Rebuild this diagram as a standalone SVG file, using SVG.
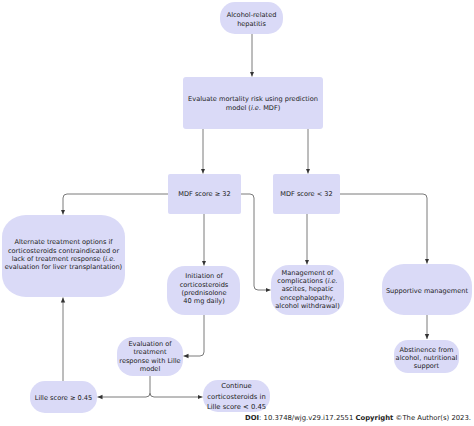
<svg xmlns="http://www.w3.org/2000/svg" width="474" height="426" viewBox="0 0 474 426">
<style>
.n{fill:#dadaf7;stroke:none}
.t{font-family:"DejaVu Sans",Verdana,sans-serif;font-size:6.6px;fill:#1a1a1a;text-anchor:middle}
.c{fill:none;stroke:#7a7a7a;stroke-width:1}
.i{font-style:italic}
.f{font-family:"DejaVu Sans",Verdana,sans-serif;font-size:6.85px;fill:#222}
.b{font-weight:bold}
</style>
<defs>
<marker id="ah" markerWidth="6" markerHeight="6" refX="5" refY="3" orient="auto" markerUnits="userSpaceOnUse">
<path d="M0,0.8 L5,3 L0,5.2 z" fill="#333"/>
</marker>
</defs>
<rect width="474" height="426" fill="#ffffff"/>
<g id="connectors">
<path class="c" d="M252,34 V76.5" marker-end="url(#ah)"/>
<path class="c" d="M203,129 V173.5" marker-end="url(#ah)"/>
<path class="c" d="M308,129 V173.5" marker-end="url(#ah)"/>
<path class="c" d="M168,194 H67 Q63,194 63,198 V214.5" marker-end="url(#ah)"/>
<path class="c" d="M241,194 H250 Q254,194 254,198 V286 Q254,290 258,290 H270.5" marker-end="url(#ah)"/>
<path class="c" d="M204,214 V265.5" marker-end="url(#ah)"/>
<path class="c" d="M307,214 V264.5" marker-end="url(#ah)"/>
<path class="c" d="M340,194 H423 Q427,194 427,198 V263.5" marker-end="url(#ah)"/>
<path class="c" d="M427,315 V339" marker-end="url(#ah)"/>
<path class="c" d="M204,315 V352 Q204,356 200,356 H183.5" marker-end="url(#ah)"/>
<path class="c" d="M150,376 V393 Q150,397 146,397 H97.5" marker-end="url(#ah)"/>
<path class="c" d="M150,393 Q150,397 154,397 H202.5" marker-end="url(#ah)"/>
<path class="c" d="M63,381 V297.5" marker-end="url(#ah)"/>
</g>
<g id="n1">
<rect class="n" x="220" y="2" width="63" height="32" rx="15" ry="15"/>
<text class="t" x="251.5" y="17.3">Alcohol-related</text>
<text class="t" x="251.5" y="25.6">hepatitis</text>
</g>
<g id="n2">
<rect class="n" x="183" y="77" width="140" height="52" rx="3"/>
<text class="t" x="253" y="101.3">Evaluate mortality risk using prediction</text>
<text class="t" x="253" y="109.6">model (<tspan class="i">i.e.</tspan> MDF)</text>
</g>
<g id="n3">
<rect class="n" x="168" y="174" width="73" height="40" rx="2"/>
<text class="t" x="204.5" y="196.3">MDF score ≥ 32</text>
</g>
<g id="n4">
<rect class="n" x="273" y="174" width="67" height="40" rx="2"/>
<text class="t" x="306.5" y="196.3">MDF score &lt; 32</text>
</g>
<g id="n5">
<rect class="n" x="2" y="215" width="123" height="82" rx="24" ry="22"/>
<text class="t" x="63.5" y="244.3">Alternate treatment options if</text>
<text class="t" x="63.5" y="252.5">corticosteroids contraindicated or</text>
<text class="t" x="63.5" y="260.7">lack of treatment response (<tspan class="i">i.e.</tspan></text>
<text class="t" x="63.5" y="268.9">evaluation for liver transplantation)</text>
</g>
<g id="n6">
<rect class="n" x="167" y="266" width="73" height="49" rx="18" ry="18"/>
<text class="t" x="204" y="278.3">Initiation of</text>
<text class="t" x="204" y="286.5">corticosteroids</text>
<text class="t" x="204" y="294.7">(prednisolone</text>
<text class="t" x="204" y="302.9">40 mg daily)</text>
</g>
<g id="n7">
<rect class="n" x="271" y="265" width="73" height="50" rx="18" ry="18"/>
<text class="t" x="307.5" y="274.5">Management of</text>
<text class="t" x="307.5" y="282.9">complications (<tspan class="i">i.e.</tspan></text>
<text class="t" x="307.5" y="291.3">ascites, hepatic</text>
<text class="t" x="307.5" y="299.7">encephalopathy,</text>
<text class="t" x="307.5" y="308.1">alcohol withdrawal)</text>
</g>
<g id="n8">
<rect class="n" x="382" y="264" width="90" height="51" rx="22" ry="22"/>
<text class="t" x="427" y="292.6">Supportive management</text>
</g>
<g id="n9">
<rect class="n" x="394" y="340" width="65" height="33" rx="14" ry="14"/>
<text class="t" x="426.5" y="351.6">Abstinence from</text>
<text class="t" x="426.5" y="359.8">alcohol, nutritional</text>
<text class="t" x="426.5" y="368">support</text>
</g>
<g id="n10">
<rect class="n" x="117" y="337" width="66" height="39" rx="16" ry="16"/>
<text class="t" x="150" y="345.8">Evaluation of</text>
<text class="t" x="150" y="354.2">treatment</text>
<text class="t" x="150" y="362.6">response with Lille</text>
<text class="t" x="150" y="371">model</text>
</g>
<g id="n11">
<rect class="n" x="30" y="381" width="67" height="32" rx="15" ry="15"/>
<text class="t" x="63.5" y="399.6">Lille score ≥ 0.45</text>
</g>
<g id="n12">
<rect class="n" x="203" y="380" width="67" height="32" rx="15" ry="15"/>
<text class="t" x="236.5" y="388.3" style="font-size:6.8px">Continue</text>
<text class="t" x="236.5" y="398.6" style="font-size:6.8px">corticosteroids in</text>
<text class="t" x="236.5" y="408.9" style="font-size:6.8px">Lille score &lt; 0.45</text>
</g>
<text class="f" x="471" y="419.5" text-anchor="end"><tspan class="b">DOI</tspan>: 10.3748/wjg.v29.i17.2551  <tspan class="b">Copyright</tspan> ©The Author(s) 2023.</text>
</svg>
